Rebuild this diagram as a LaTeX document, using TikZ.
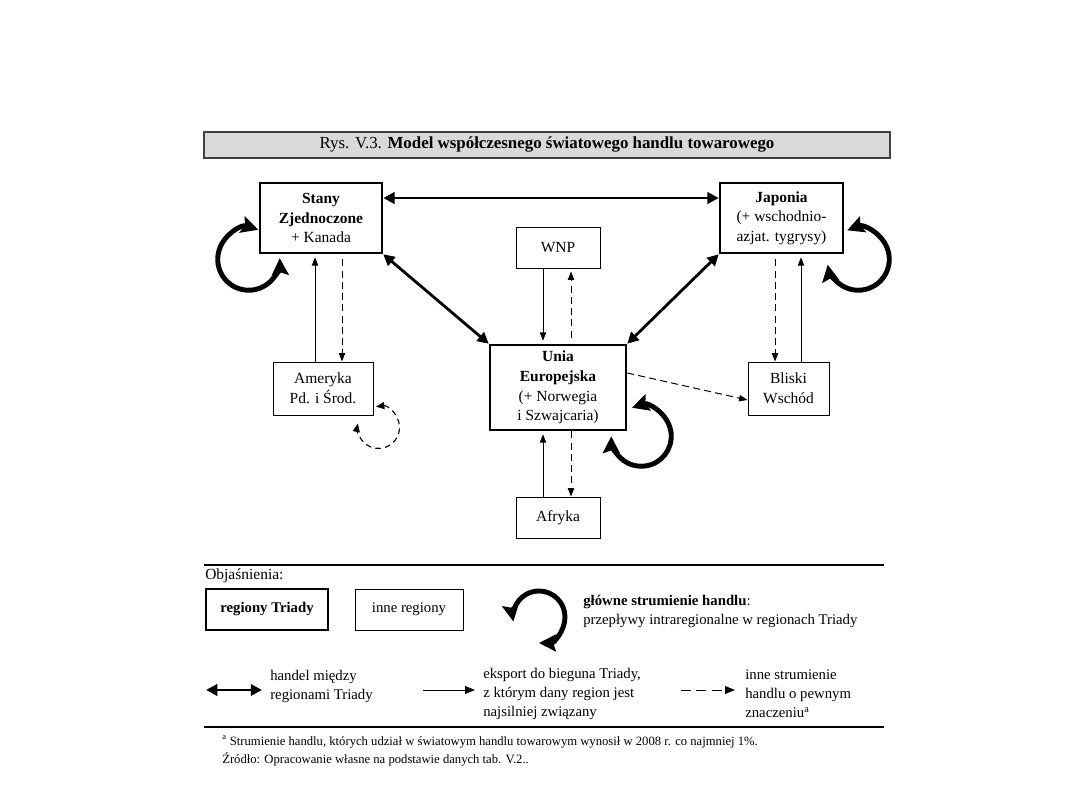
\documentclass[tikz,border=0pt]{standalone}
\usepackage{fontspec}
\setmainfont{Liberation Serif}
\usepackage{tikz}
\usetikzlibrary{arrows.meta, positioning, calc}
\definecolor{tbargray}{HTML}{D9D9D9}
\definecolor{tbarline}{HTML}{404040}
\newlength\px
\setlength\px{0.025cm}
\tikzset{
  triadbox/.style={draw, fill=white, line width=1.8pt,
                   minimum width=122\px, minimum height=70\px,
                   align=center, inner sep=1pt, font=\fontsize{11}{14}\selectfont},
  regbox/.style={draw, fill=white, line width=0.7pt,
                 align=center, inner sep=1pt, font=\fontsize{11}{14}\selectfont},
  titlebar/.style={draw=tbarline, fill=tbargray, line width=0.8pt,
                   minimum width=686\px, minimum height=26\px,
                   font=\fontsize{12}{14}\selectfont},
  tradearrow/.style={{Triangle[length=8pt, width=8pt]}-{Triangle[length=8pt, width=8pt]}, line width=2pt},
  exparrow/.style={-{Triangle[length=6pt, width=4.5pt]}, line width=0.7pt, shorten >=3\px},
  otherarrow/.style={-{Triangle[length=6pt, width=4.5pt]}, line width=0.7pt, dash pattern=on 5pt off 3pt},
  flowloop/.style={{Stealth[length=12pt, width=12pt, inset=2pt]}-{Stealth[length=12pt, width=12pt, inset=2pt]},
                   line width=3.5pt},
  otherloop/.style={{Triangle[length=6pt, width=5pt]}-{Triangle[length=6pt, width=5pt]},
                    line width=0.8pt, dash pattern=on 4pt off 3pt},
  keytext/.style={anchor=west, align=left, inner sep=0pt, font=\fontsize{10.5}{13.5}\selectfont},
  notetext/.style={anchor=west, inner sep=0pt, font=\fontsize{9}{11}\selectfont},
}

\begin{document}
\begin{tikzpicture}[x=\px, y=\px]
  \useasboundingbox (0,0) rectangle (1080,810);

  %% title bar
  \node[titlebar] (title) at (547,665)
    {Rys. V.3. \textbf{Model współczesnego światowego handlu towarowego}};

  %% Triad regions
  \node[triadbox] (stany) at (321,592)
    {\textbf{Stany}\\\textbf{Zjednoczone}\\+ Kanada};
  \node[triadbox, minimum width=123\px] (japonia) at (781.5,592)
    {\textbf{Japonia}\\(+ wschodnio-\\azjat. tygrysy)};
  \node[triadbox, minimum width=136\px, minimum height=85\px] (ue) at (558,422.5)
    {\textbf{Unia}\\\textbf{Europejska}\\(+ Norwegia\\i Szwajcaria)};

  %% other regions
  \node[regbox, minimum width=84\px, minimum height=41\px] (wnp) at (558,562.5) {WNP};
  \node[regbox, minimum width=100\px, minimum height=53\px] (ameryka) at (323,421.5)
    {Ameryka\\Pd. i Środ.};
  \node[regbox, minimum width=81\px, minimum height=53\px] (bliski) at (788.5,421.5)
    {Bliski\\Wschód};
  \node[regbox, minimum width=84\px, minimum height=41\px] (afryka) at (558,292.5) {Afryka};

  %% trade between the Triad
  \draw[tradearrow] ([yshift=20\px]stany.east) -- ([yshift=20\px]japonia.west);
  \draw[tradearrow] (stany.south east) -- (ue.north west);
  \draw[tradearrow] (japonia.south west) -- (ue.north east);

  %% export to the closest Triad pole, and other flows
  \draw[exparrow] ([xshift=-8\px]ameryka.north) -- ([xshift=-8\px]ameryka.north |- stany.south);
  \draw[otherarrow] ([xshift=21\px,yshift=-5\px]stany.south) -- ([xshift=21\px]stany.south |- ameryka.north);
  \draw[exparrow] ([xshift=12.5\px]bliski.north) -- ([xshift=12.5\px]bliski.north |- japonia.south);
  \draw[otherarrow] ([xshift=-6.5\px,yshift=-5\px]japonia.south) -- ([xshift=-6.5\px]japonia.south |- bliski.north);
  \draw[exparrow] ([xshift=-15\px]wnp.south) -- ([xshift=-15\px]wnp.south |- ue.north);
  \draw[otherarrow] ([xshift=13\px,yshift=6\px]ue.north) -- ([xshift=13\px,yshift=-3\px]ue.north |- wnp.south);
  \draw[exparrow] ([xshift=-15\px]afryka.north) -- ([xshift=-15\px]afryka.north |- ue.south);
  \draw[otherarrow] ([xshift=13\px]ue.south) -- ([xshift=13\px]ue.south |- afryka.north);
  \draw[otherarrow] ([yshift=14.5\px]ue.east) -- ([yshift=-11.5\px]bliski.west);

  %% intraregional flows (loops)
  \coordinate (cstany) at ([shift={(-10,-5)}]stany.south west);
  \draw[flowloop] ([shift={(72:31)}]cstany) arc[start angle=72, end angle=362, radius=31];
  \coordinate (cjaponia) at ([shift={(14,-5)}]japonia.south east);
  \draw[flowloop] ([shift={(111:31)}]cjaponia) arc[start angle=111, end angle=-170, radius=31];
  \coordinate (cue) at ([shift={(14,-5)}]ue.south east);
  \draw[flowloop] ([shift={(108:30)}]cue) arc[start angle=108, end angle=-180, radius=30];
  \coordinate (cameryka) at ([shift={(5,-12)}]ameryka.south east);
  \draw[otherloop] ([shift={(97:21)}]cameryka) arc[start angle=97, end angle=-191, radius=21];

  %% legend
  \draw[line width=0.8pt] (204,245) -- (884,245);
  \node[anchor=west, inner sep=0pt, font=\fontsize{11}{13}\selectfont] (objas) at (205,234) {Objaśnienia:};
  \node[triadbox, minimum height=41\px, font=\fontsize{10.5}{13}\selectfont\bfseries] (keytriad)
    at (267,200.5) {regiony Triady};
  \node[regbox, minimum width=108\px, minimum height=41\px, font=\fontsize{10.5}{13}\selectfont] (keyreg)
    at (409,200.5) {inne regiony};
  \coordinate (ckey) at (539,193);
  \draw[flowloop] ([shift={(-90:26)}]ckey) arc[start angle=-90, end angle=190, radius=26];
  \node[keytext] (keyloop) at (583,198.5)
    {\textbf{główne strumienie handlu}:\\przepływy intraregionalne w regionach Triady};

  \coordinate (ktradea) at (206,120);
  \coordinate (ktradeb) at (262,120);
  \draw[tradearrow] (ktradea) -- (ktradeb);
  \node[keytext] (keytrade) at (270,123.5) {handel między\\regionami Triady};

  \coordinate (kexpa) at (423,120);
  \coordinate (kexpb) at (475,120);
  \draw[exparrow, shorten >=0pt, -{Triangle[length=7pt, width=5.5pt]}] (kexpa) -- (kexpb);
  \node[keytext] (keyexp) at (483,116)
    {eksport do bieguna Triady,\\z którym dany region jest\\najsilniej związany};

  \coordinate (kothera) at (681,120);
  \coordinate (kotherb) at (735,120);
  \draw[otherarrow, dash pattern=on 7pt off 4pt, -{Triangle[length=7pt, width=5.5pt]}] (kothera) -- (kotherb);
  \node[keytext] (keyother) at (745,116)
    {inne strumienie\\handlu o pewnym\\znaczeniu\textsuperscript{a}};

  \draw[line width=0.8pt] (204,83) -- (884,83);
  \node[notetext] (note) at (222,68)
    {\textsuperscript{a} Strumienie handlu, których udział w światowym handlu towarowym wynosił w 2008 r. co najmniej 1\%.};
  \node[notetext] (source) at (222,51)
    {Źródło: Opracowanie własne na podstawie danych tab. V.2..};

\end{tikzpicture}
\end{document}
